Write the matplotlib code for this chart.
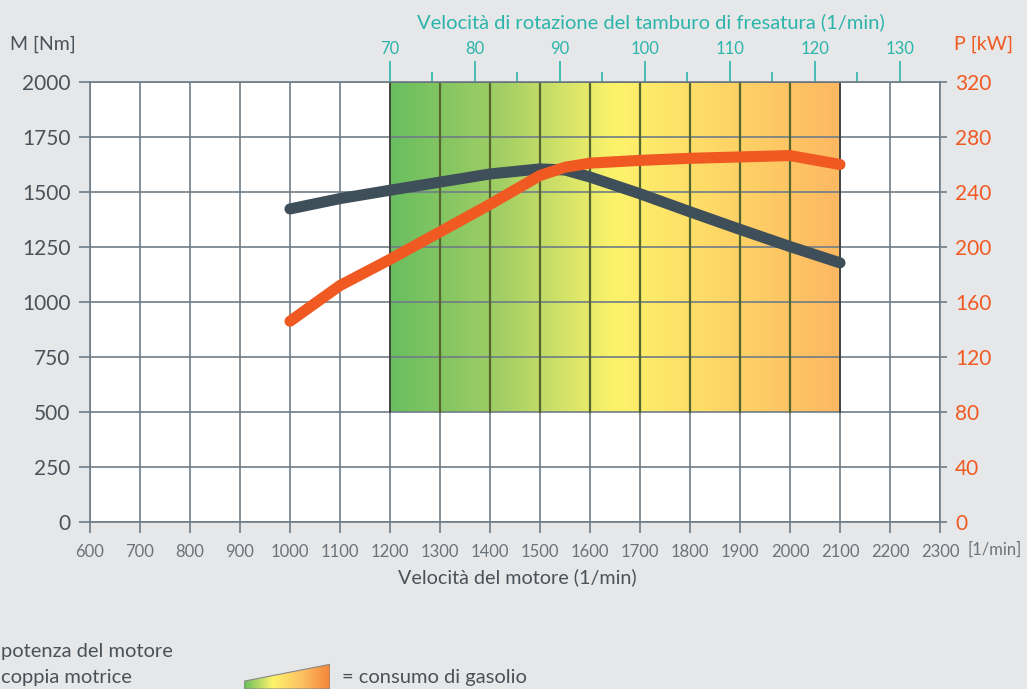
import matplotlib
matplotlib.use("Agg")
import matplotlib.pyplot as plt
import numpy as np
from matplotlib.colors import LinearSegmentedColormap
from matplotlib.patches import Polygon

# engine speed (1/min)
rpm = [1000, 1100, 1200, 1300, 1400, 1500, 1550, 1600, 1700, 1800, 1900, 2000, 2100]
# torque M [Nm]
torque = [1423, 1470, 1508, 1545, 1582, 1605, 1600, 1568, 1492, 1410, 1330, 1252, 1178]
# power P [kW]
power = [146, 172, 191, 211, 231, 252, 258, 261, 263, 264.5, 265.5, 266.5, 260]

rpm_ticks = list(range(600, 2400, 100))
torque_ticks = [0, 250, 500, 750, 1000, 1250, 1500, 1750, 2000]
power_ticks = [0, 40, 80, 120, 160, 200, 240, 280, 320]
drum_ticks = [70, 80, 90, 100, 110, 120, 130]
drum_minor = [75, 85, 95, 105, 115, 125]

# consumption band
band_rpm = (1200, 2100)
band_torque = (500, 2000)

BG = "#e6e7e9"
GRID = "#6f7d87"
TEAL = "#2bb5aa"
ORANGE = "#f05a22"
SLATE = "#3f4f5a"
TXT = "#4a5259"

plt.rcParams["font.family"] = ["Lato", "DejaVu Sans"]

fig = plt.figure(figsize=(10.27, 6.89), dpi=100, facecolor=BG)
ax = fig.add_axes([90 / 1027, 1 - 522 / 689, 850 / 1027, 440 / 689])
ax.set_facecolor("white")
ax.set_xlim(600, 2300)
ax.set_ylim(0, 2000)

cmap = LinearSegmentedColormap.from_list(
    "fuel", [(0, "#69be5f"), (0.25, "#a3cf65"), (0.5, "#fdf36b"), (0.75, "#fed566"), (1, "#fdb862")]
)
grad = np.linspace(0, 1, 256).reshape(1, -1)
ax.imshow(grad, cmap=cmap, aspect="auto", extent=[band_rpm[0], band_rpm[1], band_torque[0], band_torque[1]],
          zorder=0.5, interpolation="bicubic")
ax.plot([band_rpm[0], band_rpm[0], band_rpm[1], band_rpm[1]],
        [band_torque[0], band_torque[1], band_torque[1], band_torque[0]],
        color="#3a3a30", lw=1.2, zorder=1.2)

ax.set_xticks(rpm_ticks)
ax.set_yticks(torque_ticks)
ax.grid(True, color=GRID, lw=1.2, zorder=1)
ax.set_axisbelow(True)
for x in range(band_rpm[0] + 100, band_rpm[1], 100):
    ax.plot([x, x], band_torque, color="#56652f", lw=1.6, zorder=1.1)

for s in ax.spines.values():
    s.set_color(GRID)
    s.set_linewidth(1.2)
ax.tick_params(axis="x", length=8, width=1.2, color=GRID, labelsize=12, labelcolor="#6a737a", pad=8)
ax.tick_params(axis="y", length=8, width=1.2, color=GRID, labelsize=15, labelcolor=TXT, pad=6)

ax.plot(rpm, torque, color=SLATE, lw=8, solid_capstyle="round", solid_joinstyle="round", zorder=3)

axp = ax.twinx()
axp.set_ylim(0, 320)
axp.set_yticks(power_ticks)
axp.tick_params(axis="y", length=5, width=1.2, color=GRID, labelsize=15, labelcolor=ORANGE, pad=6)
for s in axp.spines.values():
    s.set_visible(False)
axp.plot(rpm, power, color=ORANGE, lw=8, solid_capstyle="round", solid_joinstyle="round", zorder=4)

# drum speed axis on top
axt = ax.secondary_xaxis("top", functions=(lambda r: 70 + (r - 1200) / 17.0, lambda d: 1200 + (d - 70) * 17.0))
axt.set_xticks(drum_ticks)
axt.set_xticks(drum_minor, minor=True)
axt.spines["top"].set_visible(False)
axt.tick_params(axis="x", which="major", length=15, width=1.2, color=TEAL, labelsize=12, labelcolor=TEAL, pad=3)
axt.tick_params(axis="x", which="minor", length=7, width=1.2, color=TEAL)

fig.text(10 / 1027, 1 - 44 / 689, "M [Nm]", fontsize=14, color=TXT, va="center")
fig.text(1013 / 1027, 1 - 44 / 689, "P [kW]", fontsize=14, color=ORANGE, va="center", ha="right")
fig.text(651 / 1027, 1 - 22 / 689, "Velocità di rotazione del tamburo di fresatura (1/min)",
         fontsize=14.5, color=TEAL, va="center", ha="center")
fig.text(517 / 1027, 1 - 577 / 689, "Velocità del motore (1/min)", fontsize=14.2, color=TXT, va="center", ha="center")
fig.text(1022 / 1027, 1 - 550 / 689, "[1/min]", fontsize=12, color="#6a737a", va="center", ha="right")

fig.text(1 / 1027, 1 - 652 / 689, "potenza del motore", fontsize=14.5, color=TXT, va="center")
fig.text(1 / 1027, 1 - 677 / 689, "coppia motrice", fontsize=14.5, color=TXT, va="center")
fig.text(342 / 1027, 1 - 677 / 689, "= consumo di gasolio", fontsize=14.5, color=TXT, va="center")

# legend swatch for consumption
lax = fig.add_axes([244 / 1027, 0, 86 / 1027, 26 / 689])
lax.set_xlim(0, 1)
lax.set_ylim(0, 1)
lax.axis("off")
cmap2 = LinearSegmentedColormap.from_list("sw", ["#69be5f", "#fdf36b", "#fdc262", "#f5853a"])
im = lax.imshow(grad, cmap=cmap2, aspect="auto", extent=[0, 1, 0, 1], interpolation="bicubic")
poly = Polygon([(0, 0), (0, 0.3), (1, 0.95), (1, 0)], closed=True, transform=lax.transData,
               facecolor="none", edgecolor="#888888", lw=0.8)
lax.add_patch(poly)
im.set_clip_path(poly)

fig.savefig("out.png", dpi=100, facecolor=BG)
